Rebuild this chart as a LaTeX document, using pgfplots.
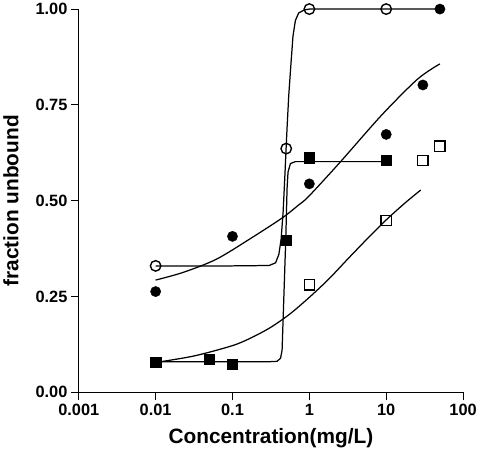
\documentclass[border=0pt]{standalone}
\usepackage{fontspec}
\setmainfont{Liberation Sans}
\usepackage{pgfplots}
\pgfplotsset{compat=1.18}
\begin{document}
\begin{tikzpicture}
\path (-78pt,-64pt) rectangle (402pt,396pt);
\begin{axis}[
  at={(0pt,0pt)}, anchor=south west,
  scale only axis, width=388pt, height=387pt,
  xmode=log, xmin=0.001, xmax=100, ymin=0, ymax=1,
  axis x line=bottom, axis y line=left,
  axis line style={-, line width=1pt},
  tick align=outside, major tick length=8pt,
  tick style={line width=1pt, black},
  xminorticks=false, yminorticks=false,
  xtick={0.001,0.01,0.1,1,10,100},
  xticklabels={0.001,0.01,0.1,1,10,100},
  ytick={0,0.25,0.5,0.75,1},
  yticklabels={0.00,0.25,0.50,0.75,1.00},
  /pgf/number format/assume math mode=true,
  ticklabel style={font=\fontsize{16.5}{16.5}\selectfont\bfseries},
  label style={font=\fontsize{21}{21}\selectfont\bfseries},
  xlabel={Concentration(mg/L)},
  ylabel={fraction unbound},
  xlabel style={at={([yshift=-52pt]axis description cs:0.5,0)}, anchor=base},
  ylabel style={at={([xshift=-61pt]axis description cs:0,0.5)}, anchor=base},
  clip=false,
]
% fitted curves
\addplot[black, line width=1.25pt, no markers] coordinates {
 (0.01,0.330) (0.1,0.330) (0.3,0.331) (0.3636,0.338) (0.4011,0.360)
 (0.4293,0.400) (0.4555,0.470) (0.4791,0.560) (0.4981,0.636) (0.5129,0.690)
 (0.5395,0.775) (0.5776,0.860) (0.6128,0.930) (0.6581,0.970) (0.7258,0.990)
 (0.8673,0.998) (1,1.0) (50,1.0)};
\addplot[black, line width=1.25pt, no markers] coordinates {
 (0.01,0.080) (0.1,0.080) (0.3,0.080) (0.381,0.081) (0.4217,0.089)
 (0.4419,0.110) (0.4555,0.190) (0.4934,0.400) (0.5129,0.532) (0.5282,0.575)
 (0.5676,0.597) (0.6581,0.602) (10,0.602)};
\addplot[black, line width=1.25pt, no markers, smooth] coordinates {
 (0.01,0.293) (0.0228,0.313) (0.0612,0.347) (0.1644,0.399) (0.4427,0.455)
 (0.726,0.489) (0.977,0.511) (2.5,0.600) (8.6,0.722) (25.5,0.817) (50,0.857)};
\addplot[black, line width=1.25pt, no markers, smooth] coordinates {
 (0.01,0.078) (0.03162,0.095) (0.1,0.122) (0.1778,0.143) (0.3162,0.170)
 (0.5623,0.205) (1,0.248) (1.778,0.295) (3.162,0.348) (5.623,0.400)
 (10,0.450) (17.78,0.495) (28.18,0.528)};
% data
\addplot[only marks, mark=o, mark size=5.3pt, mark options={fill=white, draw=black, line width=1.4pt}] coordinates {
 (0.01,0.33) (0.5,0.636) (1,1.0) (10,1.0)};
\addplot[only marks, mark=*, mark size=5.2pt, mark options={fill=black, draw=black}] coordinates {
 (0.01,0.263) (0.1,0.407) (1,0.544) (10,0.673) (30,0.802) (50,1.0)};
\addplot[only marks, mark=square*, mark size=5.2pt, mark options={fill=black, draw=black}] coordinates {
 (0.01,0.078) (0.05,0.087) (0.1,0.073) (0.5,0.397) (1,0.612) (10,0.605)};
\addplot[only marks, mark=square, mark size=5.2pt, mark options={fill=white, draw=black, line width=1.4pt}] coordinates {
 (1,0.281) (10,0.448) (30,0.605) (50,0.642)};
\end{axis}
\end{tikzpicture}
\end{document}
